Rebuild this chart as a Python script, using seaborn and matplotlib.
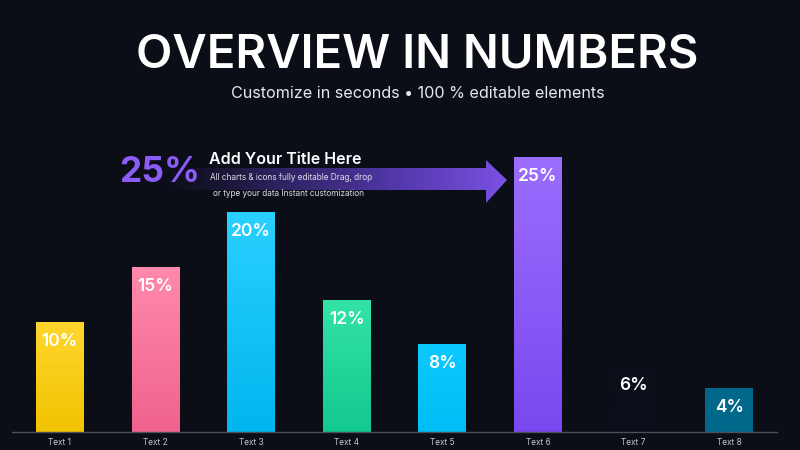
import numpy as np
import pandas as pd
import matplotlib
matplotlib.use("Agg")
import matplotlib.pyplot as plt
import matplotlib.colors as mcolors
from matplotlib.patches import Polygon
import seaborn as sns

# chart data
categories = ["Text 1", "Text 2", "Text 3", "Text 4", "Text 5", "Text 6", "Text 7", "Text 8"]
values = [10, 15, 20, 12, 8, 25, 6, 4]
labels = ["10%", "15%", "20%", "12%", "8%", "25%", "6%", "4%"]
top_colors = ["#ffd62e", "#ff8aab", "#2ad0ff", "#33e3a6", "#0ccaff", "#9c6dff", "#0c0e19", "#00688a"]
bottom_colors = ["#f2c300", "#f0628f", "#00b6ee", "#12c98f", "#00bdf5", "#7a48ee", "#0c0e19", "#00688a"]

title = "OVERVIEW IN NUMBERS"
subtitle = "Customize in seconds \u2022 100 % editable elements"
callout_value = "25%"
callout_title = "Add Your Title Here"
callout_lines = ["All charts & icons fully editable Drag, drop", "or type your data Instant customization"]

BG = "#0b0d17"

sns.set_theme(style="dark")
plt.rcParams["font.family"] = ["Inter", "DejaVu Sans"]

df = pd.DataFrame({"cat": categories, "val": values})

fig = plt.figure(figsize=(8, 4.5), dpi=100, facecolor=BG)
ax = fig.add_axes([12 / 800, 1 - 432 / 450, 765 / 800, 308 / 450])
ax.set_facecolor(BG)

sns.barplot(data=df, x="cat", y="val", hue="cat", palette=top_colors,
            width=0.5, legend=False, ax=ax, saturation=1)

# vertical gradient fill for each bar
for p, c_top, c_bot, lab in zip(ax.patches, top_colors, bottom_colors, labels):
    x0, y0 = p.get_x(), p.get_y()
    w, h = p.get_width(), p.get_height()
    cmap = mcolors.LinearSegmentedColormap.from_list("g", [c_bot, c_top])
    grad = np.linspace(0, 1, 256).reshape(-1, 1)
    im = ax.imshow(grad, cmap=cmap, origin="lower", aspect="auto",
                   extent=[x0, x0 + w, y0, y0 + h], zorder=2)
    im.set_clip_path(p)
    p.set_edgecolor("none")
    ax.text(x0 + w / 2, y0 + h - 1.75, lab, ha="center", va="center",
            color="white", fontsize=12.5, fontweight="semibold", zorder=4)
ax.set_xlim(-0.5, len(categories) - 0.5)
ax.set_ylim(0, 28)

# axis styling
for s in ["top", "right", "left"]:
    ax.spines[s].set_visible(False)
ax.spines["bottom"].set_color("#4a4f5e")
ax.spines["bottom"].set_linewidth(1)
ax.set_yticks([])
ax.set_xlabel("")
ax.set_ylabel("")
ax.set_xticks(range(len(categories)))
ax.set_xticklabels(categories, color="#c3c7d2", fontsize=6)
ax.tick_params(axis="x", which="major", length=0, pad=4)
ax.set_xticks(np.arange(-0.5, len(categories), 1), minor=True)
ax.tick_params(axis="x", which="minor", length=3, color="#4a4f5e", width=1)
ax.grid(False)

# titles
fig.text(0.522, 1 - 55 / 450, title, ha="center", va="center", color="white",
         fontsize=34, fontweight="semibold")
fig.text(0.522, 1 - 94 / 450, subtitle, ha="center", va="center", color="#e6e8ee",
         fontsize=11.6)

# gradient arrow in figure coordinates
arrow_ax = fig.add_axes([0, 0, 1, 1], facecolor="none")
arrow_ax.set_xlim(0, 800)
arrow_ax.set_ylim(450, 0)
arrow_ax.axis("off")
arrow_pts = [(160, 168), (486, 168), (486, 160), (507, 180), (486, 203), (486, 190), (160, 190)]
poly = Polygon(arrow_pts, closed=True, facecolor="none", edgecolor="none")
arrow_ax.add_patch(poly)
arr_cmap = mcolors.LinearSegmentedColormap.from_list(
    "a", [mcolors.to_rgba("#2a2050", 0), mcolors.to_rgba("#3a2a7a", 0.75),
          mcolors.to_rgba("#5a3cb8", 0.9), mcolors.to_rgba("#7c52e6", 1)])
hgrad = np.linspace(0, 1, 256).reshape(1, -1)
aim = arrow_ax.imshow(hgrad, cmap=arr_cmap, aspect="auto", extent=[160, 507, 203, 160], zorder=1)
aim.set_clip_path(poly)

arrow_ax.text(119, 172, callout_value, ha="left", va="center", color="#8b5cf6",
              fontsize=25.5, fontweight="bold", zorder=3)
arrow_ax.text(209, 159, callout_title, ha="left", va="center", color="white",
              fontsize=11.5, fontweight="semibold", zorder=3)
arrow_ax.text(210, 178, callout_lines[0], ha="left", va="center", color="#dcdde6",
              fontsize=5.9, zorder=3)
arrow_ax.text(213, 193, callout_lines[1], ha="left", va="center", color="#dcdde6",
              fontsize=5.9, zorder=3)

fig.savefig("out.png", dpi=100, facecolor=BG)
